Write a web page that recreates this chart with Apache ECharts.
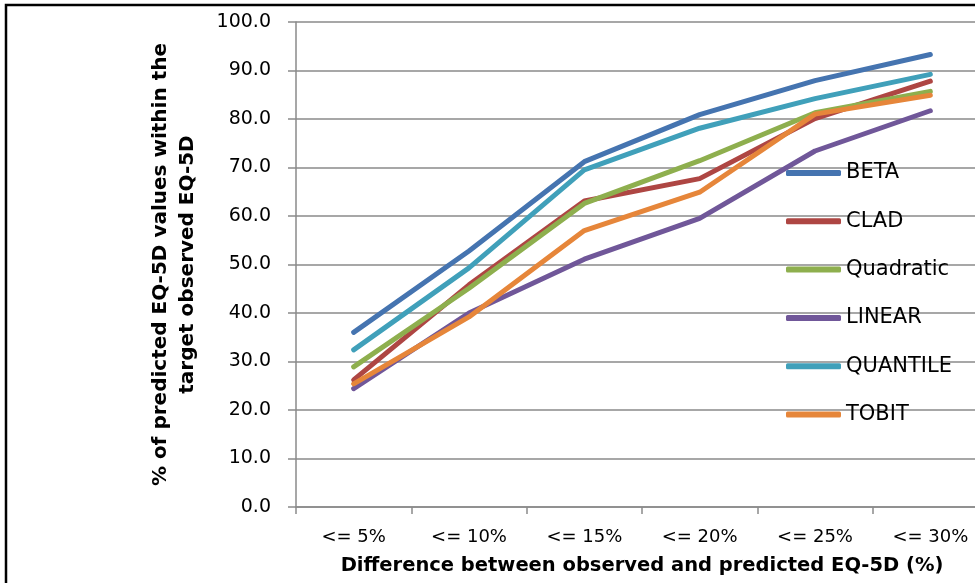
<!DOCTYPE html>
<html>
<head>
<meta charset="utf-8">
<script src="https://cdn.jsdelivr.net/npm/echarts@6/dist/echarts.min.js"></script>
<style>
  html, body { margin: 0; padding: 0; background: #ffffff; overflow: hidden; }
  /* the plot runs past the right edge of the 975px window */
  #chart { width: 1000px; height: 583px; }
</style>
</head>
<body>
<div id="chart"></div>
<script>
// Share of predicted EQ-5D values falling within a given distance of the observed value
const categories = ['<= 5%', '<= 10%', '<= 15%', '<= 20%', '<= 25%', '<= 30%'];
const beta      = [36.0, 52.8, 71.2, 80.9, 87.9, 93.3];
const clad      = [26.2, 45.8, 63.1, 67.7, 80.1, 87.8];
const quadratic = [28.9, 45.1, 62.6, 71.4, 81.3, 85.7];
const linear    = [24.4, 40.0, 51.1, 59.5, 73.4, 81.7];
const quantile  = [32.4, 49.3, 69.5, 78.1, 84.2, 89.2];
const tobit     = [25.4, 39.2, 57.0, 64.9, 81.0, 84.9];
const yTicks    = [0, 10, 20, 30, 40, 50, 60, 70, 80, 90, 100];

const seriesDefs = [
  { name: 'BETA',      data: beta,      color: '#4574B0' },
  { name: 'CLAD',      data: clad,      color: '#AE4643' },
  { name: 'Quadratic', data: quadratic, color: '#8EAF4E' },
  { name: 'LINEAR',    data: linear,    color: '#705799' },
  { name: 'QUANTILE',  data: quantile,  color: '#40A0BA' },
  { name: 'TOBIT',     data: tobit,     color: '#E6863A' }
];

const gridColor = '#8a8a8a';
const chart = echarts.init(document.getElementById('chart'), null, { renderer: 'canvas' });

chart.setOption({
  animation: false,
  backgroundColor: '#ffffff',
  textStyle: { fontFamily: 'DejaVu Sans' },
  grid: { left: 296, top: 22, width: 692, height: 485, containLabel: false, outerBoundsMode: 'none' },
  legend: {
    orient: 'vertical',
    left: 786,
    top: 161,
    padding: 0,
    icon: 'roundRect',
    itemWidth: 55,
    itemHeight: 6,
    itemGap: 24.3,
    textStyle: { fontFamily: 'DejaVu Sans', fontSize: 21, color: '#000000', lineHeight: 24 },
    data: seriesDefs.map(s => s.name)
  },
  xAxis: {
    type: 'category',
    data: categories,
    boundaryGap: true,
    axisLine: { lineStyle: { color: gridColor, width: 1.5 } },
    axisTick: { show: true, length: 7, lineStyle: { color: gridColor, width: 1.5 } },
    axisLabel: { margin: 21, fontSize: 18, color: '#000000', fontFamily: 'DejaVu Sans' },
    name: 'Difference between observed and predicted EQ-5D (%)',
    nameLocation: 'middle',
    nameGap: 49,
    nameTextStyle: { fontSize: 19.5, fontWeight: 'bold', color: '#000000', fontFamily: 'DejaVu Sans' }
  },
  yAxis: {
    type: 'value',
    min: yTicks[0],
    max: yTicks[yTicks.length - 1],
    interval: yTicks[1] - yTicks[0],
    axisLine: { show: true, lineStyle: { color: gridColor, width: 1.5 } },
    axisTick: { show: true, length: 8, lineStyle: { color: gridColor, width: 1.5 } },
    splitLine: { show: true, lineStyle: { color: gridColor, width: 1.5 } },
    axisLabel: {
      margin: 25, fontSize: 19, color: '#000000', fontFamily: 'DejaVu Sans',
      formatter: v => v.toFixed(1)
    },
    name: '% of predicted EQ-5D values within the\ntarget observed EQ-5D',
    nameLocation: 'middle',
    nameRotate: 90,
    nameGap: 95,
    nameTextStyle: { fontSize: 20, fontWeight: 'bold', color: '#000000', lineHeight: 27, fontFamily: 'DejaVu Sans', align: 'center' }
  },
  graphic: [
    {
      type: 'polyline',
      silent: true,
      shape: { points: [[6, 590], [6, 5], [1000, 5]] },
      style: { stroke: '#000000', lineWidth: 2.5, fill: null }
    }
  ],
  series: seriesDefs.map(s => ({
    name: s.name,
    type: 'line',
    data: s.data,
    symbol: 'none',
    color: s.color,
    lineStyle: { color: s.color, width: 5, cap: 'round', join: 'round' },
    itemStyle: { color: s.color }
  }))
});
</script>
</body>
</html>
